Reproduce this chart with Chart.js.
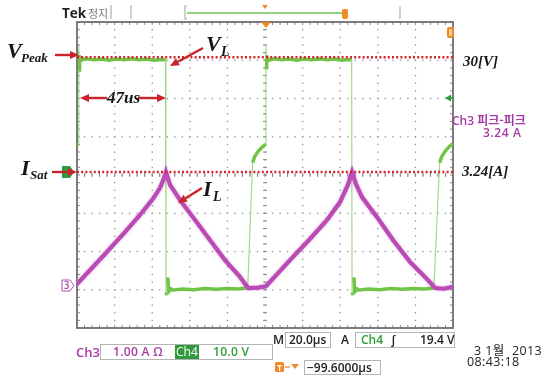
<!DOCTYPE html>
<html lang="ko">
<head>
<meta charset="utf-8">
<title>Tek 정지</title>
<script src="https://cdn.jsdelivr.net/npm/chart.js@4.4.1/dist/chart.umd.min.js"></script>
<style>
  html, body { margin: 0; padding: 0; background: #fff; }
  #scope { position: relative; width: 543px; height: 375px; overflow: hidden; }
  #plot { position: absolute; left: 0; top: 0; width: 543px; height: 375px; }
  #marks { position: absolute; left: 0; top: 0; pointer-events: none; }
  .t { position: absolute; white-space: nowrap; }
  .note { font-family: "Liberation Serif", "DejaVu Serif", serif; font-style: italic; font-weight: bold; color: #161616; }
  .ui { font-family: "Open Sans", "Noto Sans CJK KR", sans-serif; font-weight: 600; font-size: 12px; color: #222; }
  .ko { font-family: "Noto Sans CJK KR", sans-serif; }
  .c3 { color: #a63aa2; }
  .c4 { color: #2e9e38; }
  .box { position: absolute; border: 1px solid #b4b4b4; box-sizing: border-box; background: #fff; }
</style>
</head>
<body>
<div id="scope">
  <div id="plot"><canvas id="chart"></canvas></div>

  <svg id="marks" width="543" height="375" viewBox="0 0 543 375">
    <!-- record bar at the top -->
    <g stroke="#b0b0b0" stroke-width="1.2">
      <line x1="111" y1="5" x2="111" y2="19"/>
      <line x1="131" y1="5" x2="131" y2="19"/>
      <line x1="400" y1="6" x2="400" y2="19"/>
      <path d="M187,6 H185 V19 H187" fill="none"/>
    </g>
    <line x1="187" y1="13" x2="342" y2="13" stroke="#6cc64a" stroke-width="1.6"/>
    <polygon points="262,5 268,5 265,9" fill="#f08a24"/>
    <rect x="342" y="9" width="6" height="10" rx="2" fill="#f08a24"/>
    <!-- trigger position, level and channel markers -->
    <polygon points="261,22 271,22 266,28" fill="#f08a24"/>
    <rect x="447" y="27" width="7" height="11" rx="2" fill="#f08a24"/>
    <rect x="449" y="29" width="3" height="7" rx="1" fill="#f9c98f"/>
    <polygon points="445,98 451,94.5 451,101.5" fill="#2e9a3a"/>
    <line x1="450" y1="98" x2="454" y2="98" stroke="#2e9a3a" stroke-width="1.5"/>
    <path d="M62,166 H70 L74,172 L70,178 H62 Z" fill="#2f9a3c"/>
    <path d="M62,280 H70 L74,285.5 L70,291 H62 Z" fill="#fff" stroke="#b14aaa" stroke-width="1"/>
    <text x="66.5" y="289" font-family="Open Sans, sans-serif" font-size="10" font-weight="600" fill="#b14aaa" text-anchor="middle">3</text>

    <!-- annotation arrows -->
    <g stroke="#c8232b" stroke-width="2.4" fill="none">
      <line x1="55" y1="55" x2="71" y2="55"/>
      <line x1="203" y1="48" x2="177.9" y2="61.7"/>
      <line x1="107" y1="98" x2="88" y2="98"/>
      <line x1="138" y1="98" x2="158" y2="98"/>
      <line x1="52" y1="172" x2="69" y2="172"/>
      <line x1="202" y1="188" x2="185.6" y2="198.2"/>
    </g>
    <g fill="#c8232b">
      <polygon points="79,55 70,51 70,59"/>
      <polygon points="170,66 179.8,65.2 176,58.2"/>
      <polygon points="80,98 89,94 89,102"/>
      <polygon points="166,98 157,94 157,102"/>
      <polygon points="77,172 68,168 68,176"/>
      <polygon points="178,203 187.7,201.6 183.5,194.8"/>
    </g>

    <!-- T marker -->
    <rect x="275" y="362" width="9" height="10" rx="1.5" fill="#f08a24"/>
    <text x="279.5" y="370.5" font-family="Open Sans, sans-serif" font-size="8" font-weight="700" fill="#fff" text-anchor="middle">T</text>
    <line x1="285" y1="367" x2="290" y2="367" stroke="#f08a24" stroke-width="1.2"/>
    <polygon points="291,364 299,364 295,369" fill="#f08a24"/>
  </svg>

  <!-- header -->
  <span class="t ui" style="left:62px; top:5px; line-height:16px; font-size:13.5px; font-weight:700;">Tek</span>
  <span class="t ko" style="left:88px; top:6px; line-height:14px; font-size:11px; color:#777;">정지</span>

  <!-- hand-written annotations -->
  <span class="t note" style="left:7px; top:39.5px; line-height:22px; font-size:22px;">V</span>
  <span class="t note" style="left:21px; top:51px; line-height:14px; font-size:13px;">Peak</span>
  <span class="t note" style="left:206px; top:33px; line-height:22px; font-size:22px;">V</span>
  <span class="t note" style="left:221px; top:45px; line-height:14px; font-size:14px;">L</span>
  <span class="t note" style="left:107px; top:89px; line-height:18px; font-size:17px;">47us</span>
  <span class="t note" style="left:21px; top:156.5px; line-height:22px; font-size:22px;">I</span>
  <span class="t note" style="left:30px; top:168px; line-height:14px; font-size:13px;">Sat</span>
  <span class="t note" style="left:203px; top:178px; line-height:22px; font-size:22px;">I</span>
  <span class="t note" style="left:213px; top:190px; line-height:14px; font-size:14px;">L</span>
  <span class="t note" style="left:463px; top:53px; line-height:16px; font-size:15px;">30[V]</span>
  <span class="t note" style="left:462px; top:163px; line-height:16px; font-size:15px;">3.24[A]</span>

  <!-- measurement readout -->
  <span class="t ui c3" style="left:452px; top:112px; line-height:15px; font-size:12px;">Ch3 <span class="ko" style="font-weight:700;">피크-피크</span></span>
  <span class="t ui c3" style="left:483px; top:125px; line-height:15px; font-size:12px; letter-spacing:0.6px;">3.24 A</span>

  <!-- status bar -->
  <span class="t ui" style="left:273px; top:332px; line-height:16px;">M</span>
  <div class="box" style="left:285px; top:332px; width:46px; height:16px;"></div>
  <span class="t ui" style="left:289px; top:332px; line-height:16px;">20.0µs</span>
  <span class="t ui" style="left:341px; top:332px; line-height:16px;">A</span>
  <div class="box" style="left:355px; top:332px; width:100px; height:16px;"></div>
  <span class="t ui c4" style="left:361px; top:332px; line-height:16px;">Ch4</span>
  <span class="t ui" style="left:391px; top:332px; line-height:16px; font-style:italic;">∫</span>
  <span class="t ui" style="left:420px; top:332px; line-height:16px;">19.4 V</span>

  <span class="t ui c3" style="left:76px; top:344px; line-height:16px; font-size:13px;">Ch3</span>
  <div class="box" style="left:100px; top:344px; width:173px; height:16px;"></div>
  <span class="t ui c3" style="left:113px; top:344px; line-height:16px; letter-spacing:0.3px;">1.00 A Ω</span>
  <div style="position:absolute; left:175px; top:345px; width:24px; height:14px; background:#2f9a3c;"></div>
  <span class="t ui" style="left:176px; top:344px; line-height:16px; color:#fff; font-weight:400;">Ch4</span>
  <span class="t ui c4" style="left:213px; top:344px; line-height:16px; letter-spacing:0.3px;">10.0 V</span>

  <div class="box" style="left:304px; top:360px; width:77px; height:15px;"></div>
  <span class="t ui" style="left:307px; top:360px; line-height:15px;">−99.6000µs</span>

  <span class="t ui" style="left:474px; top:342px; line-height:16px; font-size:12.5px; font-weight:400; letter-spacing:0.4px;">3 1<span class="ko">월</span>&nbsp; 2013</span>
  <span class="t ui" style="left:467px; top:354px; line-height:16px; font-size:12.5px; font-weight:400; letter-spacing:0.4px;">08:43:18</span>
</div>

<script>
// Time base: 20 µs/div over 10 divisions
const timeSpan = [0, 200];

// Ch4: inductor voltage V_L (µs, V)
const vlTime = [0, 0.7, 0.9, 1.1, 1.4, 2.0, 5, 9, 13, 17, 21, 25, 29, 33, 37, 41, 45,
  47.1, 47.3, 47.9, 48.3, 48.8, 49.6, 51, 56, 62, 68, 74, 80, 86, 90.8,
  93.4, 94.5, 96.5, 98.5, 100.3, 100.5, 100.8, 101.1, 101.8,
  105, 109, 113, 117, 121, 125, 129, 133, 137, 141, 144,
  146.1, 146.3, 146.9, 147.3, 147.8, 148.6, 150, 155, 161, 167, 173, 179, 185, 189.8,
  192.9, 194, 196, 198, 200];
const vlVolts = [7.0, 7.3, 33.0, 26.5, 30.2, 29.2, 29.6, 29.3, 29.5, 29.2, 29.5, 29.3, 29.6, 29.3, 29.5, 29.2, 29.4,
  29.3, -31.5, -32.2, -27.6, -31.4, -30.5, -30.9, -30.6, -30.8, -30.5, -30.7, -30.5, -30.6, -30.3,
  2.4, 4.0, 5.5, 6.5, 7.2, 33.0, 26.8, 30.1, 29.2,
  29.6, 29.3, 29.5, 29.2, 29.5, 29.3, 29.6, 29.3, 29.5, 29.2, 29.4,
  29.3, -31.5, -32.2, -27.6, -31.4, -30.5, -30.9, -30.6, -30.8, -30.5, -30.7, -30.5, -30.6, -30.3,
  2.4, 4.0, 5.5, 6.6, 7.4];

// Ch3: inductor current I_L (µs, A)
const ilTime = [0, 14.9, 25.5, 33.5, 40.4, 44.1, 46.3, 47.3, 49.5, 54.8, 62.8, 70.7, 78.7, 86.7, 91.0,
  96.3, 100.5, 114.9, 123.9, 133.0, 139.9, 144.1, 146.3, 148.4, 151.6, 159.6, 168.1, 177.1, 185.1, 190.5,
  195, 200];
const ilAmps = [0.11, 0.95, 1.56, 2.04, 2.49, 2.79, 3.07, 3.24, 2.88, 2.46, 1.90, 1.34, 0.78, 0.31, 0.0,
  0.01, 0.05, 0.87, 1.37, 1.90, 2.40, 2.88, 3.24, 2.90, 2.54, 1.98, 1.34, 0.73, 0.31, 0.0,
  -0.02, 0.03];

// reference levels
const peakVolts = 30;
const satAmps = 3.24;

const toPoints = (xs, ys) => xs.map((x, i) => ({ x: x, y: ys[i] }));
const level = (v) => [{ x: timeSpan[0], y: v }, { x: timeSpan[1], y: v }];

// near-vertical edges are drawn thin and faint, like a fast scope transition
const isEdge = (ctx) => {
  const dx = Math.abs(ctx.p1.x - ctx.p0.x), dy = Math.abs(ctx.p1.y - ctx.p0.y);
  return dy > 15 && dy > 4 * dx;
};

// Tek style graticule: dotted divisions, minor ticks on frame and centre axes
const graticule = {
  id: 'graticule',
  beforeDatasetsDraw(chart) {
    const { ctx, chartArea: a } = chart;
    const cols = 10, rows = 8, minor = 5;
    const dx = (a.right - a.left) / cols, dy = (a.bottom - a.top) / rows;
    const cx = a.left + dx * cols / 2, cy = a.top + dy * rows / 2;
    ctx.save();
    ctx.fillStyle = '#8e8e8e';
    for (let i = 1; i < cols; i++) {
      const x = a.left + i * dx;
      for (let k = 1; k < rows * minor; k++) ctx.fillRect(x - 0.6, a.top + k * dy / minor - 0.6, 1.3, 1.3);
    }
    for (let j = 1; j < rows; j++) {
      const y = a.top + j * dy;
      for (let k = 1; k < cols * minor; k++) ctx.fillRect(a.left + k * dx / minor - 0.6, y - 0.6, 1.3, 1.3);
    }
    ctx.strokeStyle = '#8a8a8a';
    ctx.lineWidth = 1;
    ctx.beginPath();
    for (let k = 1; k < cols * minor; k++) {
      const x = a.left + k * dx / minor;
      ctx.moveTo(x, a.top); ctx.lineTo(x, a.top + 3);
      ctx.moveTo(x, a.bottom); ctx.lineTo(x, a.bottom - 3);
      ctx.moveTo(x, cy - 2); ctx.lineTo(x, cy + 2);
    }
    for (let k = 1; k < rows * minor; k++) {
      const y = a.top + k * dy / minor;
      ctx.moveTo(a.left, y); ctx.lineTo(a.left + 3, y);
      ctx.moveTo(a.right, y); ctx.lineTo(a.right - 3, y);
      ctx.moveTo(cx - 2, y); ctx.lineTo(cx + 2, y);
    }
    ctx.stroke();
    ctx.strokeStyle = '#6e6e6e';
    ctx.lineWidth = 1.8;
    ctx.strokeRect(a.left, a.top, a.right - a.left, a.bottom - a.top);
    ctx.restore();
  }
};

// soft phosphor halo under the current trace
const traceGlow = {
  id: 'traceGlow',
  beforeDatasetDraw(chart, args) {
    if (chart.data.datasets[args.index].label !== 'I_L') return;
    chart.ctx.save();
    chart.ctx.shadowColor = 'rgba(200, 110, 195, 0.55)';
    chart.ctx.shadowBlur = 3;
  },
  afterDatasetDraw(chart, args) {
    if (chart.data.datasets[args.index].label !== 'I_L') return;
    chart.ctx.restore();
  }
};

new Chart(document.getElementById('chart'), {
  type: 'line',
  data: {
    datasets: [
      {
        label: '30[V]',
        data: level(peakVolts),
        yAxisID: 'yV',
        borderColor: '#d1232b',
        borderWidth: 2.4,
        borderDash: [2, 2.2],
        pointRadius: 0,
        order: 0,
      },
      {
        label: '3.24[A]',
        data: level(satAmps),
        yAxisID: 'yA',
        borderColor: '#d1232b',
        borderWidth: 2.4,
        borderDash: [2, 2.2],
        pointRadius: 0,
        order: 0,
      },
      {
        label: 'I_L',
        data: toPoints(ilTime, ilAmps),
        yAxisID: 'yA',
        borderColor: 'rgb(186, 74, 180)',
        borderWidth: 4.2,
        borderJoinStyle: 'miter',
        borderCapStyle: 'round',
        pointRadius: 0,
        tension: 0,
        order: 1,
      },
      {
        label: 'V_L',
        data: toPoints(vlTime, vlVolts),
        yAxisID: 'yV',
        borderColor: 'rgb(112, 196, 70)',
        borderWidth: 3.5,
        borderJoinStyle: 'round',
        pointRadius: 0,
        tension: 0,
        order: 2,
        segment: {
          borderWidth: ctx => isEdge(ctx) ? 1.2 : undefined,
          borderColor: ctx => isEdge(ctx) ? 'rgb(160, 218, 140)' : undefined,
        },
      },
    ],
  },
  options: {
    responsive: true,
    maintainAspectRatio: false,
    animation: false,
    layout: { padding: { left: 77, right: 90, top: 22, bottom: 47 } },
    plugins: { legend: { display: false }, tooltip: { enabled: false } },
    scales: {
      x: { type: 'linear', min: timeSpan[0], max: timeSpan[1], display: false },
      // 10 V/div, ground 0.08 div above centre
      yV: { type: 'linear', min: -40.8, max: 39.2, display: false },
      // current channel, ground near the "3" marker
      yA: { type: 'linear', min: -1.117, max: 7.43, display: false },
    },
  },
  plugins: [graticule, traceGlow],
});
</script>
</body>
</html>
